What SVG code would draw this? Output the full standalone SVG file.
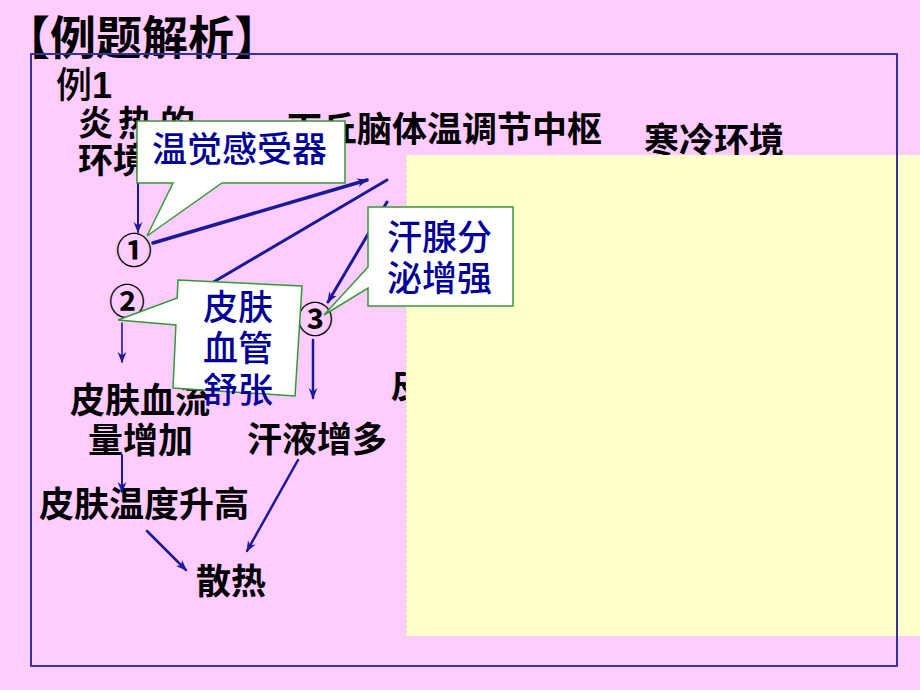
<svg xmlns="http://www.w3.org/2000/svg" width="920" height="690" viewBox="0 0 920 690">
<defs>
<style>
.lbl{font-family:"Noto Sans CJK SC","Liberation Sans",sans-serif;font-size:35px;font-weight:bold;fill:#000}
.ttl{font-family:"Noto Sans CJK SC","Liberation Sans",sans-serif;font-size:46px;font-weight:bold;fill:#000}
.blu{font-family:"Noto Sans CJK SC","Liberation Sans",sans-serif;font-size:35px;font-weight:500;fill:#000099}
.num{font-family:"Noto Sans CJK SC","DejaVu Sans",sans-serif;font-size:36px;font-weight:bold;fill:#000}
.cn{fill:none;stroke:#1a1a99;stroke-linecap:round}
.bub{fill:#fff;stroke:#339933;stroke-width:1.5;stroke-linejoin:miter}
</style>
<marker id="ah" viewBox="0 0 10 10" refX="9" refY="5" markerWidth="11" markerHeight="11" markerUnits="userSpaceOnUse" orient="auto">
<path d="M0,1 L10,5 L0,9 L3,5 z" fill="#1a1a99"/>
</marker>
</defs>
<rect x="0" y="0" width="920" height="690" fill="#FFCCFF"/>

<text class="ttl" x="4" y="54">【例题解析】</text>

<g id="example">
<text class="lbl" x="56" y="98" style="font-size:36px;font-weight:500">例<tspan font-family="Liberation Sans" font-weight="bold">1</tspan></text>
</g>

<g id="hot-env">
<text class="lbl" x="78 118 160" y="136">炎热的</text>
<text class="lbl" x="78" y="173">环境</text>
</g>
<g id="hypothalamus"><text class="lbl" x="287" y="142">下丘脑体温调节中枢</text></g>
<g id="cold-env"><text class="lbl" x="644" y="153">寒冷环境</text></g>
<g id="n1"><text class="num" x="134" y="264" text-anchor="middle">①</text></g>
<g id="n2"><text class="num" x="127" y="315" text-anchor="middle">②</text></g>
<g id="n3"><text class="num" x="315" y="333" text-anchor="middle">③</text></g>
<g id="blood-flow">
<text class="lbl" x="70" y="413">皮肤血流</text>
<text class="lbl" x="88" y="453">量增加</text>
</g>
<g id="sweat-more"><text class="lbl" x="247" y="452">汗液增多</text></g>
<g id="skin-temp"><text class="lbl" x="39" y="517">皮肤温度升高</text></g>
<g id="heat-loss"><text class="lbl" x="196" y="594">散热</text></g>
<g id="hidden-skin"><text class="lbl" x="391" y="398">皮</text></g>

<g id="connectors">
<path class="cn" d="M138,176 L138,232" stroke-width="2" marker-end="url(#ah)"/>
<path class="cn" d="M153,243 L367,180" stroke-width="3.5" marker-end="url(#ah)"/>
<path class="cn" d="M387,180 L200,290" stroke-width="3"/>
<path class="cn" d="M387,202 L328,302" stroke-width="3" marker-end="url(#ah)"/>
<path class="cn" d="M122,323 L122,362" stroke-width="1.6" marker-end="url(#ah)"/>
<path class="cn" d="M313,340 L313,398" stroke-width="2.5" marker-end="url(#ah)"/>
<path class="cn" d="M122,455 L122,492" stroke-width="2" marker-end="url(#ah)"/>
<path class="cn" d="M298,460 L247,551" stroke-width="2.5" marker-end="url(#ah)"/>
<path class="cn" d="M147,531 L186,570" stroke-width="2.5" marker-end="url(#ah)"/>
</g>

<rect id="panel" x="406" y="155" width="514" height="481" fill="#FFFFCC"/>
<line x1="406" y1="155" x2="406" y2="636" stroke="#d8d0c8" stroke-width="1" stroke-dasharray="3,2"/>
<rect id="frame" x="31" y="54" width="866" height="612" fill="none" stroke="#333399" stroke-width="2"/>

<g id="callout-receptor">
<path class="bub" d="M137,121 L345,121 L345,183 L222,183 L147,236 L173,183 L137,183 Z"/>
<text class="blu" x="152" y="162">温觉感受器</text>
</g>
<g id="callout-sweat">
<path class="bub" d="M368,207 L513,207 L513,306 L368,306 L368,288 L324,315 L368,267 Z"/>
<text class="blu" x="387" y="250">汗腺分</text>
<text class="blu" x="387" y="291">泌增强</text>
</g>
<g id="callout-vessel">
<path class="bub" d="M178,280 L302,286 L295,396 L173,388 L175.9,325 L118,320 L177.2,298 Z"/>
<text class="blu" x="203" y="320">皮肤</text>
<text class="blu" x="203" y="361">血管</text>
<text class="blu" x="203" y="403">舒张</text>
</g>
</svg>
